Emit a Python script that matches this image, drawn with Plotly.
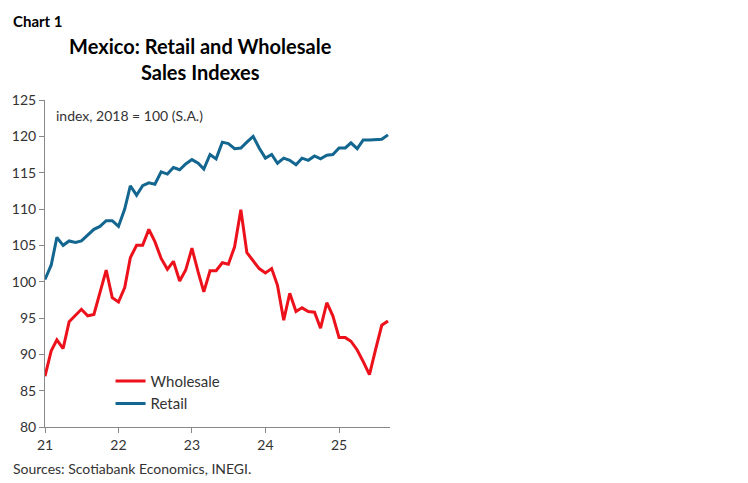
import plotly.graph_objs as go
import pandas as pd

months = pd.date_range("2021-01-01", "2025-09-01", freq="MS")

wholesale = [87, 90.5, 92, 90.8, 94.5, 95.3, 96.2, 95.3, 95.5, 98.5, 101.6, 97.8,
             97.2, 99.2, 103.3, 105, 105, 107.2, 105.5, 103.2, 101.7, 102.8, 100.1, 101.6,
             104.6, 101.3, 98.6, 101.5, 101.5, 102.6, 102.4, 104.8, 109.9, 104, 102.8, 101.8,
             101.2, 101.8, 99.5, 94.7, 98.4, 95.9, 96.4, 95.9, 95.8, 93.6, 97.1, 95.3,
             92.3, 92.3, 91.8, 90.6, 89, 87.2, 90.6, 94, 94.6]
retail = [100.3, 102.3, 106.1, 105, 105.6, 105.4, 105.6, 106.4, 107.2, 107.6, 108.4, 108.4,
          107.6, 110, 113.2, 111.9, 113.2, 113.6, 113.4, 115.1, 114.8, 115.7, 115.4, 116.2,
          116.8, 116.3, 115.5, 117.5, 116.9, 119.2, 119, 118.3, 118.4, 119.2, 120, 118.4,
          117, 117.5, 116.3, 117, 116.7, 116.1, 117, 116.7, 117.3, 116.9, 117.4, 117.5,
          118.4, 118.4, 119.1, 118.3, 119.5, 119.5, 119.6, 119.6, 120.2]

tick_vals = pd.date_range("2021-01-01", "2025-01-01", freq="YS")
tick_text = ["21", "22", "23", "24", "25"]

FONT = "Lato"
fig = go.Figure()
fig.add_trace(go.Scatter(x=months, y=wholesale, mode="lines", name="Wholesale",
                         line=dict(color="#ec111a", width=3)))
fig.add_trace(go.Scatter(x=months, y=retail, mode="lines", name="Retail",
                         line=dict(color="#13668f", width=3)))

fig.update_layout(
    width=748, height=483, plot_bgcolor="white", paper_bgcolor="white",
    margin=dict(l=37, r=366, t=92, b=64, autoexpand=False),
    font=dict(family=FONT, size=14, color="#333"),
    title=dict(text="<b>Mexico: Retail and Wholesale<br>Sales Indexes</b>", x=0.257, xanchor="center",
               y=0.905, yanchor="top", font=dict(size=20, color="black")),
    legend=dict(x=0.19, y=0.19, xanchor="left", yanchor="top", bgcolor="rgba(0,0,0,0)",
                font=dict(size=15), tracegroupgap=0),
    showlegend=True,
)
fig.update_xaxes(range=[months[0], months[-1] + pd.Timedelta(days=10)], tickvals=tick_vals,
                 ticktext=tick_text, ticks="outside", ticklen=5, tickcolor="#888",
                 showgrid=False, showline=True, linecolor="#888", zeroline=False, automargin=False)
fig.update_yaxes(range=[80, 125], dtick=5, ticks="outside", ticklen=5, tickcolor="#888",
                 showgrid=False, showline=True, linecolor="#888", zeroline=False, automargin=False)

fig.add_annotation(text="<b>Chart 1</b>", xref="paper", yref="paper", x=-0.098, y=1.275,
                   xanchor="left", yanchor="top", showarrow=False, font=dict(size=15, color="black"))
fig.add_annotation(text="index, 2018 = 100 (S.A.)", xref="paper", yref="paper", x=0.025, y=0.985,
                   xanchor="left", yanchor="top", showarrow=False, font=dict(size=14))
fig.add_annotation(text="Sources: Scotiabank Economics, INEGI.", xref="paper", yref="paper",
                   x=-0.1, y=-0.095, xanchor="left", yanchor="top", showarrow=False,
                   font=dict(size=14))

fig.write_html("out.html")
